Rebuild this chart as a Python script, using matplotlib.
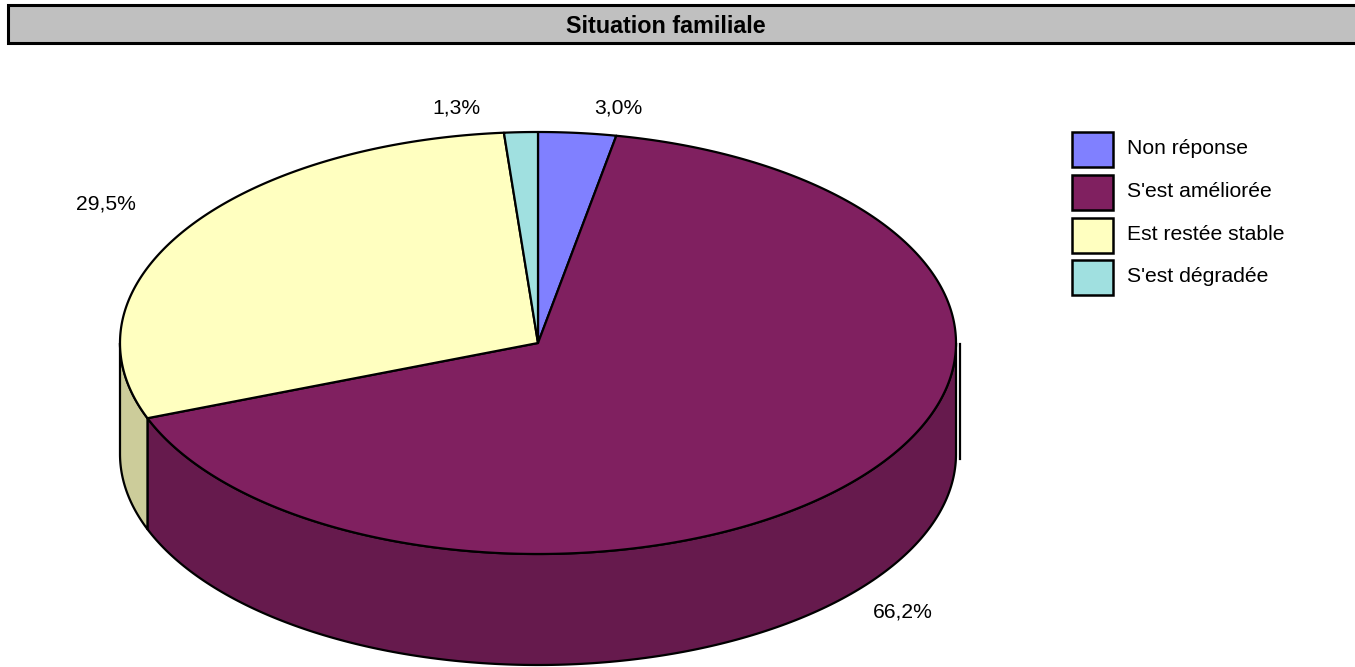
import matplotlib
matplotlib.use("Agg")
import matplotlib.pyplot as plt
import numpy as np
from matplotlib.patches import Polygon, Rectangle

plt.rcParams['font.family'] = ['Liberation Sans', 'DejaVu Sans']

title = "Situation familiale"
categories = ["Non réponse", "S'est améliorée", "Est restée stable", "S'est dégradée"]
values = [3.0, 66.2, 29.5, 1.3]
labels = ["3,0%", "66,2%", "29,5%", "1,3%"]
colors = ["#8080FF", "#802060", "#FFFFC0", "#A0E0E0"]

# layout (pixels)
W, H = 1355, 667
cx, cy, rx, ry, depth = 538, 343, 418, 211, 111
label_pos = [(618, 113), (903, 617), (106, 209), (456, 113)]  # centre x, baseline y

fig = plt.figure(figsize=(W / 100, H / 100), dpi=100)
ax = fig.add_axes([0, 0, 1, 1])
ax.set_xlim(0, W)
ax.set_ylim(H, 0)
ax.axis('off')

# title bar
ax.add_patch(Rectangle((8, 5), W, 38, facecolor="#C0C0C0", edgecolor="black", lw=2.2))
ax.text(665.5, 33, title, ha='center', va='baseline', fontsize=16.8, fontweight='bold')


def pt(theta_deg, dy=0.0):
    t = np.radians(theta_deg)
    return cx + rx * np.cos(t), cy - ry * np.sin(t) + dy


def darken(c, f=0.8):
    r, g, b = matplotlib.colors.to_rgb(c)
    return (r * f, g * f, b * f)


total = sum(values)
spans = []
hi = 90.0
for v in values:
    lo = hi - 360.0 * v / total
    spans.append((hi, lo))
    hi = lo

# side walls (front half)
for (hi, lo), c in zip(spans, colors):
    for fa, fb in [(-180.0, 0.0), (-540.0, -360.0)]:
        a = max(lo, fa)
        b = min(hi, fb)
        if b - a <= 0:
            continue
        th = np.linspace(a, b, 200)
        xs, ys = pt(th)
        xb, yb = pt(th[::-1], depth)
        poly = np.column_stack([np.concatenate([xs, xb]), np.concatenate([ys, yb])])
        ax.add_patch(Polygon(poly, closed=True, facecolor=darken(c), edgecolor='black', lw=1.6, joinstyle='round'))

# top faces
for (hi, lo), c in zip(spans, colors):
    th = np.linspace(hi, lo, 400)
    xs, ys = pt(th)
    poly = np.column_stack([np.concatenate([[cx], xs]), np.concatenate([[cy], ys])])
    ax.add_patch(Polygon(poly, closed=True, facecolor=c, edgecolor='black', lw=1.6, joinstyle='round'))

# rendering artifact line at right
ax.plot([960, 960], [cy + 1, cy + 116], color='black', lw=1.6)

# labels
for (x, y), s in zip(label_pos, labels):
    ax.text(x, y, s, ha='center', va='baseline', fontsize=15.2)

# legend
lx, ly0, bw, bh, pitch = 1072, 132, 41, 35, 42.8
for i, (cat, c) in enumerate(zip(categories, colors)):
    y = ly0 + i * pitch
    ax.add_patch(Rectangle((lx, y), bw, bh, facecolor=c, edgecolor='black', lw=1.8))
    ax.text(1127, y + 22, cat, ha='left', va='baseline', fontsize=15.2)

fig.savefig("out.png", dpi=100)
